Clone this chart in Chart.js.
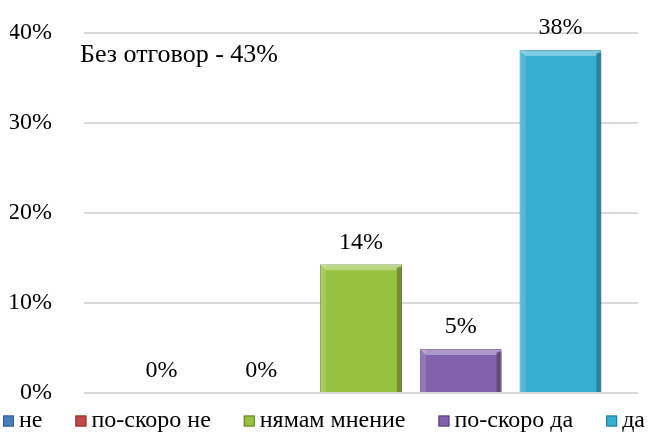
<!DOCTYPE html>
<html>
<head>
<meta charset="utf-8">
<script src="https://cdn.jsdelivr.net/npm/chart.js@4"></script>
<style>
  html, body { margin: 0; padding: 0; background: #fff; }
</style>
</head>
<body>
<canvas id="barChart" width="649" height="432"></canvas>
<script>
var categories = [''];
var seriesNames = ['не', 'по-скоро не', 'нямам мнение', 'по-скоро да', 'да'];
var seriesValues = [0, 0, 14.3, 4.9, 38.1];
var seriesColors = ['#4a7ebb', '#be4b48', '#96c23f', '#8262ab', '#37afd0'];
var edgeColors = ['#2c5a8f', '#8c2f2d', '#627f24', '#553d78', '#1f7c96'];
var noAnswerNote = 'Без отговор - 43%';

var FONT = '"Liberation Serif", "Times New Roman", serif';

// percent labels over the bars + the note in the upper left
var labelsPlugin = {
  id: 'barLabels',
  afterDatasetsDraw: function (chart) {
    var ctx = chart.ctx;
    ctx.save();
    chart.data.datasets.forEach(function (ds, i) {
      var meta = chart.getDatasetMeta(i);
      meta.data.forEach(function (bar, j) {
        var p = bar.getProps(['x', 'y', 'base', 'width']);
        // simple bevel look
        if (p.base - p.y > 4) {
          var l = p.x - p.width / 2, r = p.x + p.width / 2;
          ctx.fillStyle = 'rgba(255,255,255,0.35)';
          ctx.beginPath();
          ctx.moveTo(l, p.y); ctx.lineTo(r, p.y);
          ctx.lineTo(r - 6, p.y + 6); ctx.lineTo(l + 6, p.y + 6);
          ctx.closePath(); ctx.fill();
          ctx.fillStyle = 'rgba(255,255,255,0.15)';
          ctx.fillRect(l, p.y, 6, p.base - p.y);
          ctx.fillStyle = 'rgba(0,0,0,0.25)';
          ctx.fillRect(r - 5, p.y + 3, 5, p.base - p.y - 3);
        }
        ctx.fillStyle = '#000';
        ctx.font = '24px ' + FONT;
        ctx.textAlign = 'center';
        ctx.textBaseline = 'middle';
        ctx.fillText(Math.round(ds.data[j]) + '%', p.x, p.y - 22);
      });
    });
    var area = chart.chartArea;
    ctx.textAlign = 'left';
    ctx.font = '26px ' + FONT;
    ctx.fillText(noAnswerNote, area.left - 4, area.top + 22);
    ctx.restore();
  }
};

// compact legend along the bottom edge (box, small gap, text)
var legendPlugin = {
  id: 'bottomLegend',
  afterDraw: function (chart) {
    var ctx = chart.ctx;
    var box = 11, gapText = 5, left = 3, right = chart.width - 4;
    ctx.save();
    ctx.font = '24px ' + FONT;
    var widths = seriesNames.map(function (n) { return box + gapText + ctx.measureText(n).width; });
    var total = widths.reduce(function (a, b) { return a + b; }, 0);
    var gap = (right - left - total) / (seriesNames.length - 1);
    var x = left, y = chart.chartArea.bottom + 28;
    ctx.textBaseline = 'middle';
    ctx.textAlign = 'left';
    seriesNames.forEach(function (n, i) {
      ctx.fillStyle = seriesColors[i];
      ctx.fillRect(x, y - box / 2, box, box);
      ctx.strokeStyle = edgeColors[i];
      ctx.lineWidth = 1;
      ctx.strokeRect(x + 0.5, y - box / 2 + 0.5, box - 1, box - 1);
      ctx.fillStyle = '#000';
      ctx.fillText(n, x + box + gapText, y);
      x += widths[i] + gap;
    });
    ctx.restore();
  }
};

var ctx = document.getElementById('barChart');
var barChart = new Chart(ctx, {
  type: 'bar',
  data: {
    labels: categories,
    datasets: seriesNames.map(function (name, i) {
      return {
        label: name,
        data: [seriesValues[i]],
        backgroundColor: seriesColors[i],
        borderColor: edgeColors[i],
        borderWidth: 1,
        categoryPercentage: 0.9,
        barPercentage: 0.82
      };
    })
  },
  options: {
    responsive: false,
    animation: false,
    layout: { padding: { left: 10, right: 11, top: 33, bottom: 39 } },
    plugins: {
      legend: { display: false },
      tooltip: { enabled: false }
    },
    scales: {
      x: {
        display: false
      },
      y: {
        min: 0,
        max: 40,
        afterFit: function (s) { s.width = 74; },
        ticks: {
          stepSize: 10,
          padding: 2,
          color: '#000',
          font: { family: FONT, size: 24 },
          callback: function (v) { return v + '%'; }
        },
        grid: { color: '#d9d9d9', lineWidth: 2, drawTicks: true, tickLength: 30, tickColor: 'rgba(0,0,0,0)' },
        border: { display: false }
      }
    }
  },
  plugins: [labelsPlugin, legendPlugin]
});
</script>
</body>
</html>
